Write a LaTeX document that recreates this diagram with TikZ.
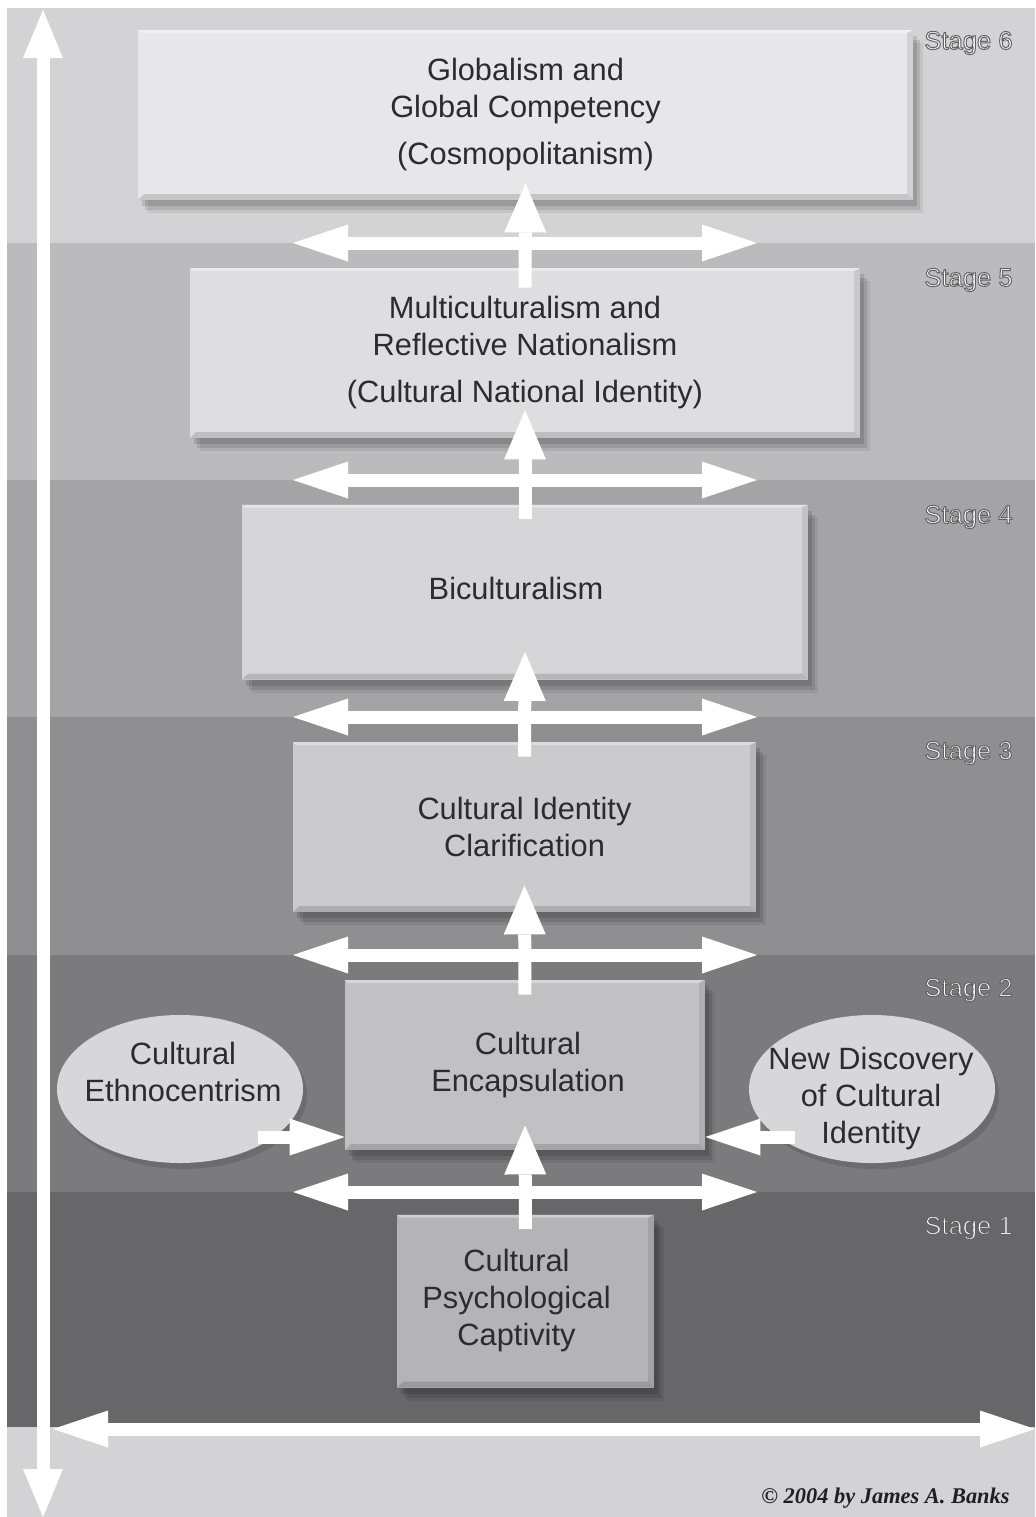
\documentclass[tikz,border=0pt]{standalone}
\usepackage{fontspec}
\setmainfont{Liberation Sans}
\newfontfamily\copyfont{Liberation Serif}
\usetikzlibrary{arrows.meta,shapes.geometric,calc}

\definecolor{bandsix}{HTML}{D3D3D5}
\definecolor{bandfive}{HTML}{BBBBBD}
\definecolor{bandfour}{HTML}{A4A4A7}
\definecolor{bandthree}{HTML}{8F8F92}
\definecolor{bandtwo}{HTML}{7B7B7E}
\definecolor{bandone}{HTML}{67676A}
\definecolor{bandbot}{HTML}{D3D3D5}
\definecolor{boxsix}{HTML}{E7E7E9}
\definecolor{boxfive}{HTML}{DEDEE0}
\definecolor{boxfour}{HTML}{D6D6D8}
\definecolor{boxthree}{HTML}{CBCBCD}
\definecolor{boxtwo}{HTML}{C1C1C3}
\definecolor{boxone}{HTML}{B4B4B6}
\definecolor{ellc}{HTML}{D7D7D9}
\definecolor{txtc}{HTML}{2C2C2E}

\newcommand\mainsz{\fontsize{15.4}{18.5}\selectfont}
\newcommand\emb[1]{\special{pdf:literal direct 2 Tr 0.5 w 0.38 0.38 0.40 RG}#1\special{pdf:literal direct 0 Tr}}

\tikzset{
  fat/.style={draw=white, line width=6.5pt, line cap=butt,
    >={Triangle[length=27.5pt,width=18.5pt,line width=0pt]}},
  upfat/.style={fat, ->, >={Triangle[length=24.5pt,width=21pt,line width=0pt]}},
  softshadow/.style={
    preaction={fill=black, opacity=0.07, transform canvas={xshift=5pt,yshift=-6.5pt}},
    preaction={fill=black, opacity=0.10, transform canvas={xshift=3.5pt,yshift=-5pt}},
    preaction={fill=black, opacity=0.12, transform canvas={xshift=2pt,yshift=-3pt}}},
  stbox/.style={rectangle, inner sep=0pt, align=center, text=txtc, font=\mainsz,
    softshadow,
    path picture={
      \fill[black,opacity=.14] (path picture bounding box.south west) -- (path picture bounding box.south east)
        -- ([shift={(-3pt,3pt)}]path picture bounding box.south east) -- ([shift={(3pt,3pt)}]path picture bounding box.south west) -- cycle;
      \fill[black,opacity=.09] (path picture bounding box.north east) -- (path picture bounding box.south east)
        -- ([shift={(-3pt,3pt)}]path picture bounding box.south east) -- ([shift={(-3pt,-1.5pt)}]path picture bounding box.north east) -- cycle;
      \fill[white,opacity=.35] (path picture bounding box.north west) -- (path picture bounding box.north east)
        -- ([shift={(-3pt,-1.5pt)}]path picture bounding box.north east) -- ([shift={(1.5pt,-1.5pt)}]path picture bounding box.north west) -- cycle;
    }},
  ellnode/.style={ellipse, inner sep=0pt, fill=ellc, minimum width=123pt, minimum height=74pt,
    preaction={fill=black, opacity=0.12, transform canvas={xshift=2pt,yshift=-3pt}}},
  elltext/.style={align=center, text=txtc, font=\mainsz, inner sep=0pt},
  stagelbl/.style={anchor=east, text=white, font=\fontsize{12.8}{14}\selectfont, inner sep=0pt}
}

\begin{document}
\begin{tikzpicture}[x=0.5pt,y=-0.5pt]
\useasboundingbox (0,0) rectangle (1035,1517);
\fill[white] (0,0) rectangle (1035,1517);
% stage bands
\fill[bandsix]   (7,8)    rectangle (1035,243);
\fill[bandfive]  (7,243)  rectangle (1035,480);
\fill[bandfour]  (7,480)  rectangle (1035,717);
\fill[bandthree] (7,717)  rectangle (1035,955);
\fill[bandtwo]   (7,955)  rectangle (1035,1192);
\fill[bandone]   (7,1192) rectangle (1035,1427);
\fill[bandbot]   (7,1427) rectangle (1035,1517);

% stage boxes
\node[stbox, fill=boxsix, minimum width=387.5pt, minimum height=85pt] (b6) at (525.5,115)
  {Globalism and\\Global Competency\\[5pt](Cosmopolitanism)};
\node[stbox, fill=boxfive, minimum width=335pt, minimum height=85pt] (b5) at (525,353)
  {Multiculturalism and\\Reflective Nationalism\\[5pt](Cultural National Identity)};
\node[stbox, fill=boxfour, minimum width=283pt, minimum height=87.5pt] (b4) at (525,592)
  {\hspace*{-9pt}\raisebox{4pt}{Biculturalism}};
\node[stbox, fill=boxthree, minimum width=231.5pt, minimum height=85pt] (b3) at (524.5,827)
  {Cultural Identity\\Clarification};
\node[stbox, fill=boxtwo, minimum width=180pt, minimum height=85pt] (b2) at (525,1065)
  {\hspace*{3pt}Cultural\\\hspace*{3pt}Encapsulation};
\node[stbox, fill=boxone, minimum width=128.5pt, minimum height=86.5pt] (b1) at (525.5,1301)
  {\hspace*{-9pt}Cultural\\\hspace*{-9pt}Psychological\\\hspace*{-9pt}Captivity};

% horizontal double arrows between stages
\foreach \yy [count=\i] in {243,480,717,955,1192} {
  \coordinate (hL\i) at (293,\yy);
  \coordinate (hR\i) at (757,\yy);
  \draw[fat,<->] (hL\i) -- (hR\i);
}

% upward arrows between boxes
\draw[upfat] ([yshift=-10pt]b5.north) -- ([yshift=8.5pt]b6.south);
\draw[upfat] ([yshift=-7.5pt]b4.north) -- ([yshift=14pt]b5.south);
\draw[upfat] ([yshift=-7.5pt]b3.north) -- ([yshift=14pt]b4.south);
\draw[upfat] ([yshift=-7.5pt]b2.north) -- ([yshift=13.5pt]b3.south);
\draw[upfat] ([yshift=-7.5pt]b1.north) -- ([yshift=12.5pt]b2.south);

% side ellipses
\node[ellnode] (eth) at (180,1089) {};
\node[elltext] (ethT) at (183,1072) {Cultural\\Ethnocentrism};
\node[ellnode] (ndc) at (872,1089) {};
\node[elltext] (ndcT) at (871,1099) {New Discovery\\of Cultural\\Identity};

\coordinate (ethTail) at (258,1137);
\coordinate (ndcTail) at (795,1137);
\draw[fat,->] (ethTail) -- (b2.west |- ethTail);
\draw[fat,->] (ndcTail) -- (b2.east |- ndcTail);

% stage labels
\node[stagelbl] (s6) at (1013,43)   {\emb{Stage 6}};
\node[stagelbl] (s5) at (1013,280)  {\emb{Stage 5}};
\node[stagelbl] (s4) at (1013,517)  {\emb{Stage 4}};
\node[stagelbl] (s3) at (1013,753)  {\emb{Stage 3}};
\node[stagelbl] (s2) at (1013,990)  {\emb{Stage 2}};
\node[stagelbl] (s1) at (1013,1228) {\emb{Stage 1}};

% outer axes
\coordinate (hLeft) at (53,1429);
\coordinate (hRight) at (1035,1429);
\draw[fat,<->] (hLeft) -- (hRight);
\coordinate (vTop) at (43,10);
\coordinate (vBot) at (43,1517);
\draw[fat,<->, >={Triangle[length=24pt,width=20pt,line width=0pt]}] (vBot) -- (vTop);

% copyright
\node[anchor=base east, inner sep=0pt, text=black!88,
      font=\copyfont\bfseries\itshape\fontsize{11.2}{13}\selectfont] (copy) at (1010,1503)
  {© 2004 by James A. Banks};
\end{tikzpicture}
\end{document}
